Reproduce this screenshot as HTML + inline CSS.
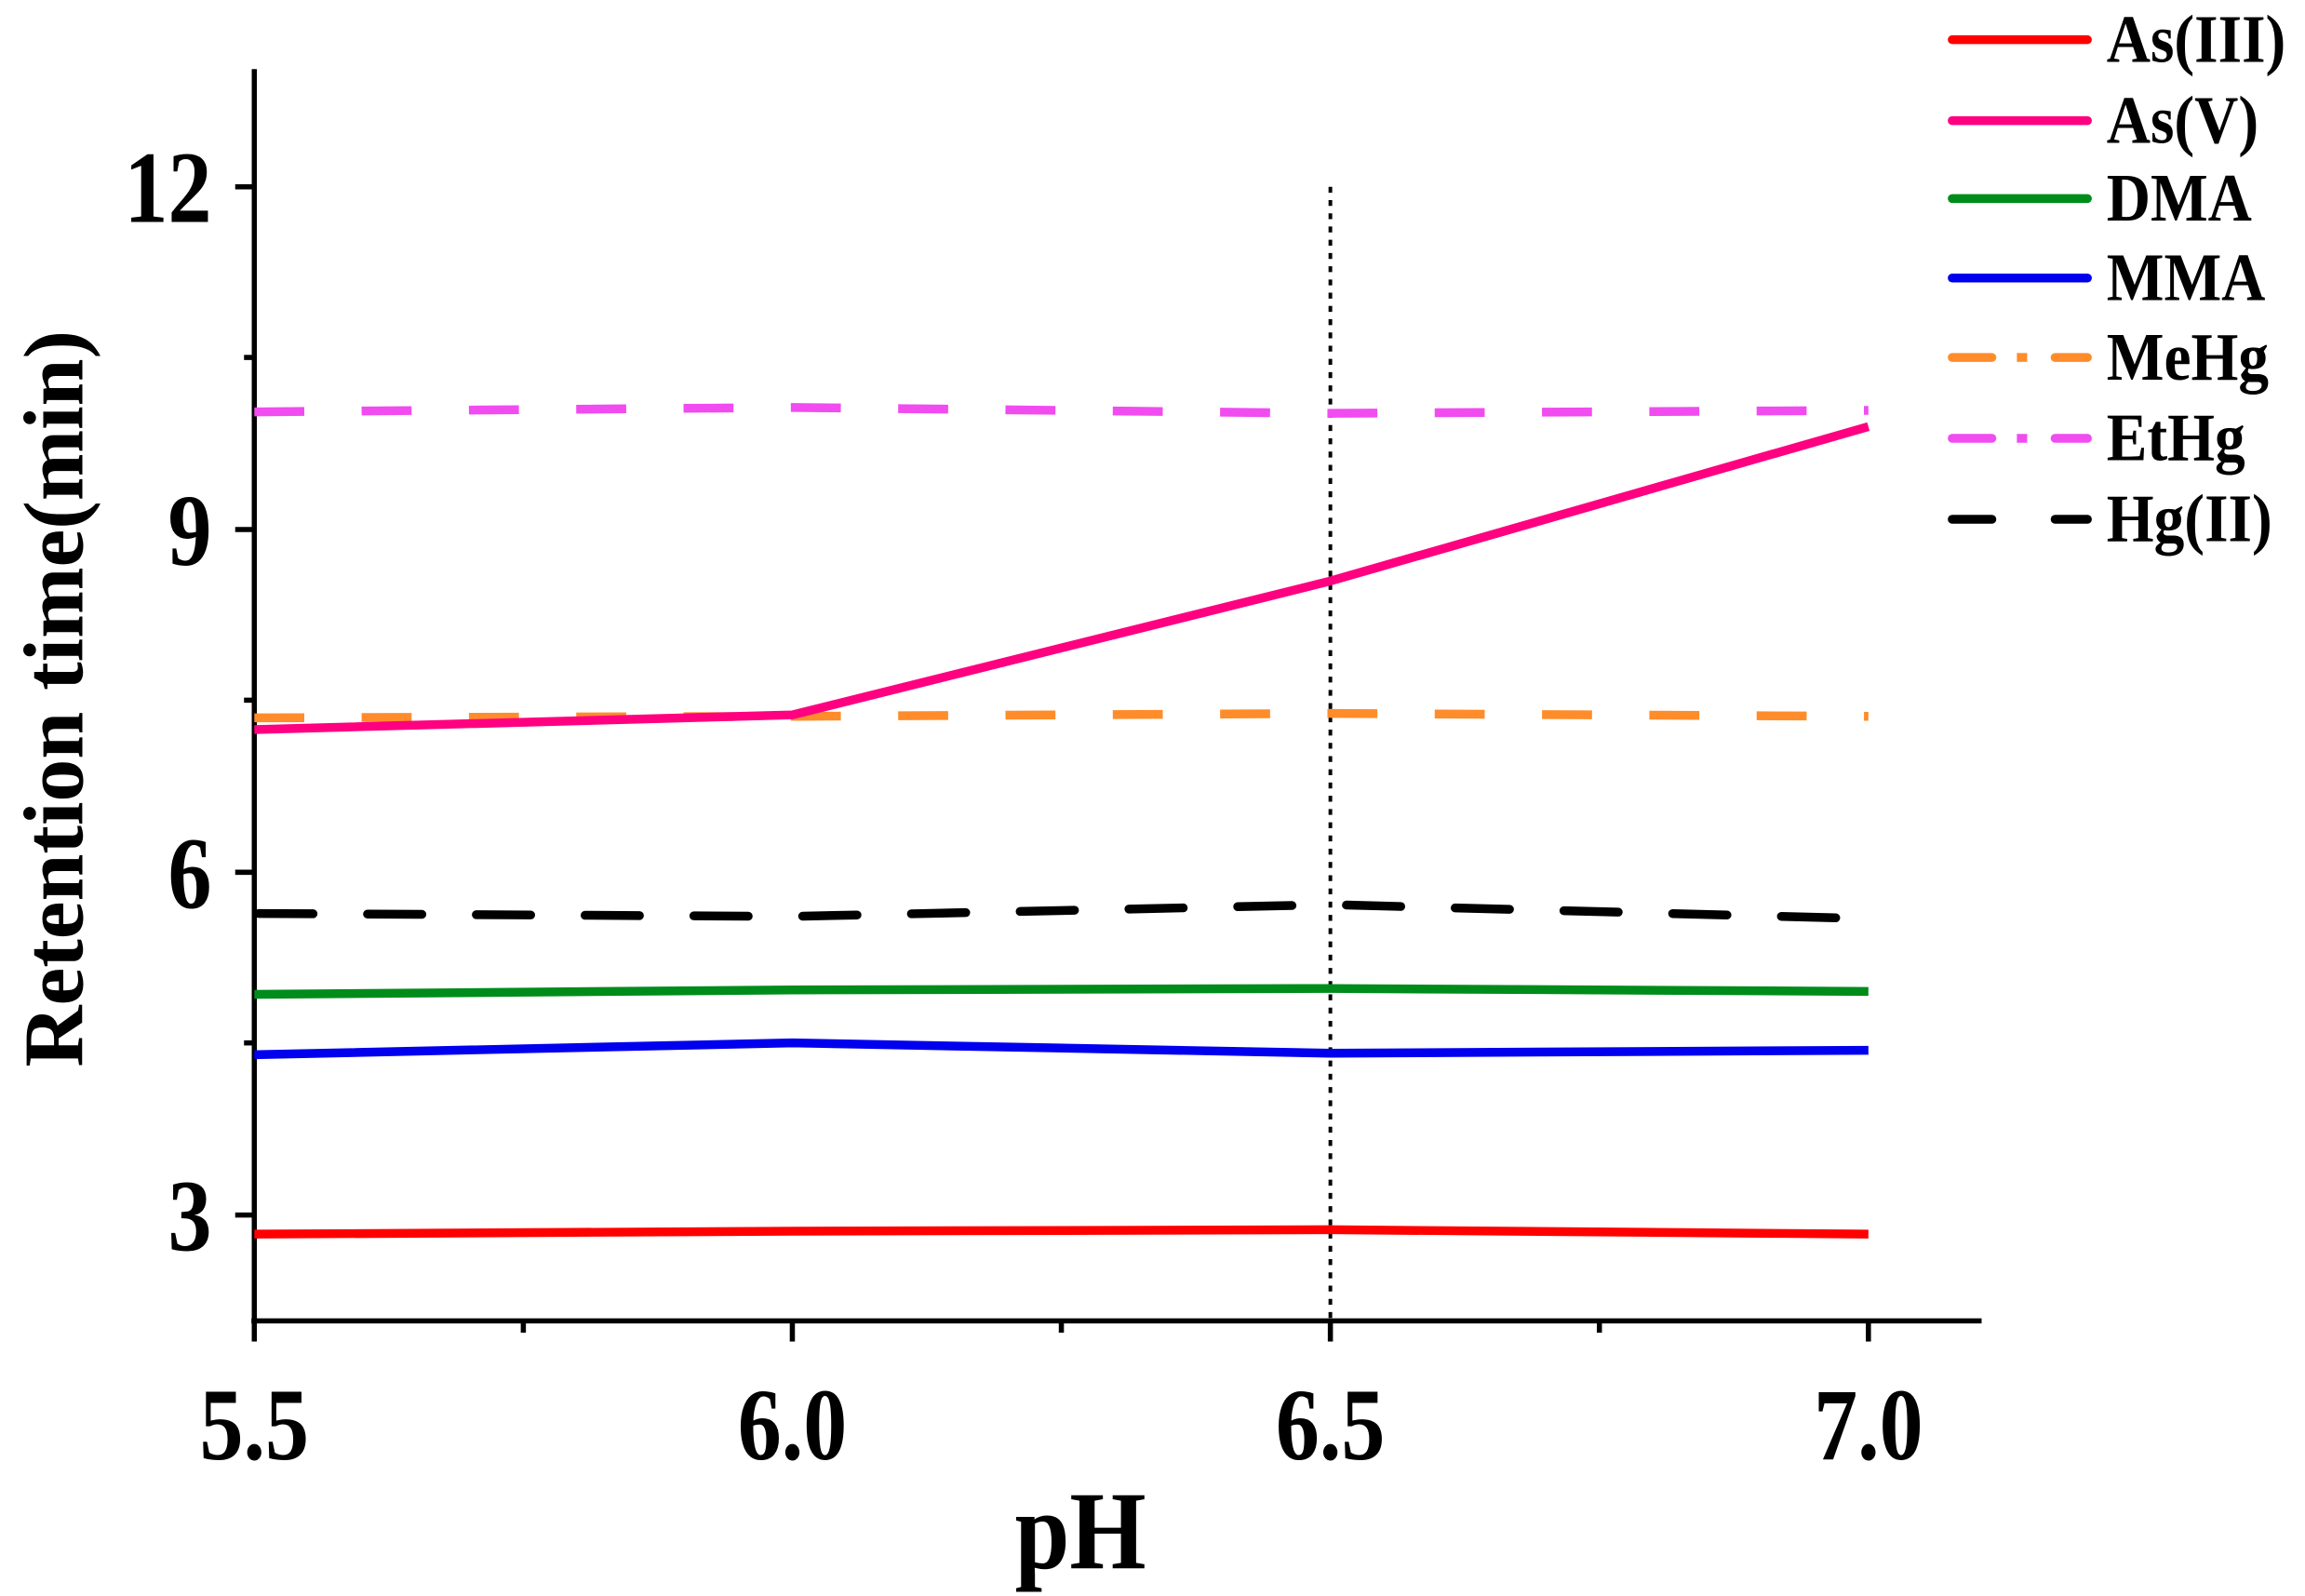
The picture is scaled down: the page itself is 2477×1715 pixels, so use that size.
<!DOCTYPE html>
<html><head><meta charset="utf-8"><style>
html,body{margin:0;padding:0;background:#fff;}
svg{display:block;}
text{font-family:"Liberation Serif",serif;font-weight:bold;fill:#000;}
</style></head><body>
<svg width="2477" height="1715" viewBox="0 0 1568 1085" preserveAspectRatio="none" xmlns="http://www.w3.org/2000/svg">
<g stroke="#000" stroke-width="3.5" fill="none">
<line x1="173" y1="47" x2="173" y2="900"/>
<line x1="171" y1="898" x2="1348" y2="898"/>
<line x1="160" y1="127" x2="173" y2="127"/>
<line x1="160" y1="360" x2="173" y2="360"/>
<line x1="160" y1="593" x2="173" y2="593"/>
<line x1="160" y1="826" x2="173" y2="826"/>
<line x1="166" y1="243" x2="173" y2="243"/>
<line x1="166" y1="476" x2="173" y2="476"/>
<line x1="166" y1="709" x2="173" y2="709"/>
<line x1="173" y1="898" x2="173" y2="912"/>
<line x1="539" y1="898" x2="539" y2="912"/>
<line x1="905" y1="898" x2="905" y2="912"/>
<line x1="1271" y1="898" x2="1271" y2="912"/>
<line x1="356" y1="898" x2="356" y2="906"/>
<line x1="722" y1="898" x2="722" y2="906"/>
<line x1="1088" y1="898" x2="1088" y2="906"/>
</g>
<line x1="905" y1="127" x2="905" y2="898" stroke="#000" stroke-width="2.5" stroke-dasharray="4 5"/>
<g fill="none" stroke-width="6">
<polyline stroke="#ff0000" points="173,839 539,837 905,836 1271,839"/>
<polyline stroke="#008c1a" points="173,676 539,673 905,672 1271,674"/>
<polyline stroke="#0000ee" points="173,717 539,709 905,716 1271,714"/>
<polyline stroke="#ff8c2a" stroke-dasharray="34 39" points="173,488 539,487 905,485 1271,487"/>
<polyline stroke="#f04cf0" stroke-dasharray="34 39" points="173,280 539,277 905,281 1271,279"/>
<polyline stroke="#000" stroke-dasharray="37 37" stroke-linecap="round" points="176,621 539,623 905,615 1250,624"/>
<polyline stroke="#ff0080" points="173,496 539,486 905,395 1271,290"/>
</g>
<g font-size="70" text-anchor="end">
<text transform="translate(144,151) scale(0.85,1)">12</text>
<text transform="translate(144,384) scale(0.85,1)">9</text>
<text transform="translate(144,617) scale(0.85,1)">6</text>
<text transform="translate(144,850) scale(0.85,1)">3</text>
</g>
<g font-size="70" text-anchor="middle">
<text transform="translate(173,992) scale(0.85,1)">5.5</text>
<text transform="translate(539,992) scale(0.85,1)">6.0</text>
<text transform="translate(905,992) scale(0.85,1)">6.5</text>
<text transform="translate(1271,992) scale(0.85,1)">7.0</text>
</g>
<text transform="translate(735,1066) scale(0.88,1)" font-size="76" text-anchor="middle">pH</text>
<text transform="translate(56,475) rotate(-90)" font-size="58" text-anchor="middle">Retention time(min)</text>
<g stroke-width="6" stroke-linecap="round">
<line x1="1328" y1="27" x2="1420" y2="27" stroke="#ff0000"/>
<line x1="1328" y1="82" x2="1420" y2="82" stroke="#ff0080"/>
<line x1="1328" y1="135" x2="1420" y2="135" stroke="#008c1a"/>
<line x1="1328" y1="189" x2="1420" y2="189" stroke="#0000ee"/>
<g stroke="#ff8c2a"><line x1="1328" y1="243" x2="1355" y2="243"/><line x1="1375" y1="243" x2="1376" y2="243" stroke-linecap="square"/><line x1="1398" y1="243" x2="1420" y2="243"/></g>
<g stroke="#f04cf0"><line x1="1328" y1="298" x2="1355" y2="298"/><line x1="1375" y1="298" x2="1376" y2="298" stroke-linecap="square"/><line x1="1398" y1="298" x2="1420" y2="298"/></g>
<g stroke="#000"><line x1="1328" y1="353" x2="1355" y2="353"/><line x1="1398" y1="353" x2="1420" y2="353"/></g>
</g>
<g font-size="46">
<text transform="translate(1433,42) scale(0.9,1)">As(III)</text>
<text transform="translate(1433,97) scale(0.9,1)">As(V)</text>
<text transform="translate(1433,150) scale(0.9,1)">DMA</text>
<text transform="translate(1433,204) scale(0.9,1)">MMA</text>
<text transform="translate(1433,258) scale(0.9,1)">MeHg</text>
<text transform="translate(1433,313) scale(0.9,1)">EtHg</text>
<text transform="translate(1433,368) scale(0.9,1)">Hg(II)</text>
</g>
</svg>
</body></html>
